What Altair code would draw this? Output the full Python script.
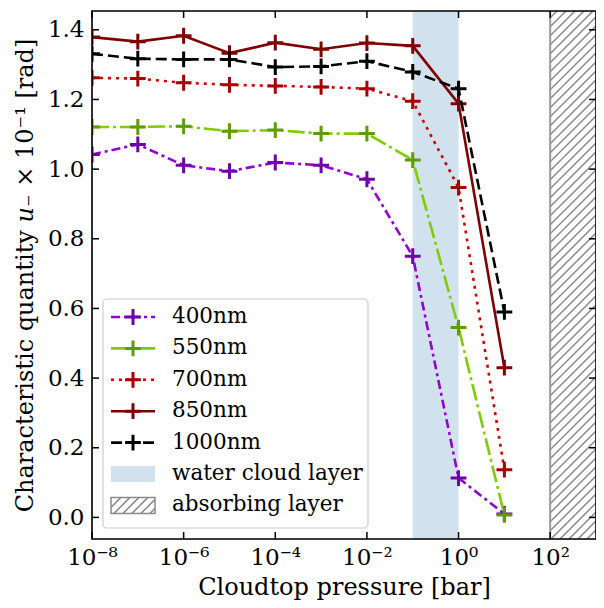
import altair as alt
import numpy as np
import pandas as pd

# ---------------- data ----------------
pressures = [1e-8, 1e-7, 1e-6, 1e-5, 1e-4, 1e-3, 1e-2, 1e-1, 1.0, 10.0]
u400 = [1.042, 1.071, 1.011, 0.994, 1.019, 1.011, 0.971, 0.750, 0.113, 0.010]
u550 = [1.121, 1.121, 1.123, 1.109, 1.112, 1.102, 1.102, 1.026, 0.545, 0.007]
u700 = [1.262, 1.260, 1.248, 1.242, 1.239, 1.236, 1.231, 1.195, 0.947, 0.137]
u850 = [1.379, 1.366, 1.383, 1.333, 1.363, 1.344, 1.362, 1.354, 1.188, 0.430]
u1000 = [1.331, 1.317, 1.315, 1.315, 1.293, 1.295, 1.310, 1.279, 1.231, 0.590]

labels = ["400nm", "550nm", "700nm", "850nm", "1000nm"]
values = [u400, u550, u700, u850, u1000]
line_colors = ["#9400d3", "#7fcc00", "#d40000", "#800000", "#000000"]
marker_colors = ["#7000a8", "#5e9c00", "#a80000", "#800000", "#000000"]
dashes = [[9, 4, 3, 4], [17, 4, 3, 4], [3, 5], [], [11, 5]]

water_cloud = [0.1, 1.0]
absorbing = [100.0, 1000.0]

x_ticks = [1e-8, 1e-6, 1e-4, 1e-2, 1.0, 1e2]
x_tick_labels = ["10⁻⁸", "10⁻⁶", "10⁻⁴", "10⁻²", "10⁰", "10²"]
y_ticks = [0.0, 0.2, 0.4, 0.6, 0.8, 1.0, 1.2, 1.4]

x_domain = [1e-8, 1e3]
y_domain = [-0.062, 1.454]

# ---------------- layout ----------------
W, H = 504, 528
FONT = "DejaVu Serif"
FS_LAB = 23
FS_TIT = 24
TICK = 7

xs = alt.Scale(type="log", domain=x_domain, nice=False)
ys = alt.Scale(domain=y_domain, nice=False, zero=False)

label_expr = " : ".join(
    f"abs(datum.value - {v}) < {v * 0.01} ? '{t}'" for v, t in zip(x_ticks, x_tick_labels)
) + " : ''"

x_axis = alt.Axis(values=x_ticks, labelExpr=label_expr, ticks=False, domain=False,
                  grid=False, labelFont=FONT, labelFontSize=FS_LAB, labelPadding=7,
                  labelFlush=False, labelOverlap=False, labelBound=False,
                  title="Cloudtop pressure [bar]", titleFont=FONT, titleFontSize=FS_TIT,
                  titleFontWeight="normal", titlePadding=6, labelColor="black",
                  titleColor="black")
y_axis = alt.Axis(values=y_ticks, format=".1f", ticks=False, domain=False, grid=False,
                  labelFont=FONT, labelFontSize=FS_LAB, labelPadding=8,
                  labelFlush=False, labelOverlap=False,
                  title="Characteristic quantity 𝑢₋ × 10⁻¹ [rad]", titleFont=FONT,
                  titleFontSize=FS_TIT, titleFontWeight="normal", titlePadding=10,
                  labelColor="black", titleColor="black")

layers = []

# water cloud span
wc = pd.DataFrame({"x0": [water_cloud[0]], "x1": [water_cloud[1]]})
layers.append(alt.Chart(wc).mark_rect(color="#d1e2ee").encode(
    x=alt.X("x0:Q", scale=xs, axis=x_axis), x2="x1:Q"))

# absorbing layer: hatch lines (decoration)
px_per_y = H / (y_domain[1] - y_domain[0])
region_px = W * np.log10(absorbing[1] / absorbing[0]) / np.log10(x_domain[1] / x_domain[0])
dy = region_px / px_per_y
step = 9.0 / px_per_y
y0s = np.arange(y_domain[0] - dy, y_domain[1] + step, step)
hatch = pd.DataFrame({"xa": absorbing[0], "xb": absorbing[1], "ya": y0s, "yb": y0s + dy})
layers.append(alt.Chart(hatch).mark_rule(color="#8a8a8a", strokeWidth=1.5, clip=True).encode(
    x=alt.X("xa:Q", scale=xs), x2="xb:Q",
    y=alt.Y("ya:Q", scale=ys, axis=y_axis), y2="yb:Q"))
ab = pd.DataFrame({"x0": [absorbing[0]]})
layers.append(alt.Chart(ab).mark_rule(color="#999999", strokeWidth=2).encode(
    x=alt.X("x0:Q", scale=xs)))

# series
plus_path = "M-1,0H1M0,-1V1"
for lab, vals, lc, mc, d in zip(labels, values, line_colors, marker_colors, dashes):
    df = pd.DataFrame({"p": pressures, "u": vals})
    kw = dict(color=lc, strokeWidth=2.6, clip=True)
    if d:
        kw["strokeDash"] = d
    layers.append(alt.Chart(df).mark_line(**kw).encode(
        x=alt.X("p:Q", scale=xs), y=alt.Y("u:Q", scale=ys)))
    layers.append(alt.Chart(df).mark_point(shape=plus_path, filled=False, stroke=mc,
                                           strokeWidth=3, size=250, opacity=1,
                                           clip=True).encode(
        x=alt.X("p:Q", scale=xs), y=alt.Y("u:Q", scale=ys)))

# inward ticks on all four sides
xt = pd.DataFrame({"t": x_ticks})
yt = pd.DataFrame({"t": y_ticks})
tick_style = dict(color="black", strokeWidth=1.5)
layers.append(alt.Chart(xt).mark_rule(**tick_style).encode(
    x=alt.X("t:Q", scale=xs), y=alt.value(H), y2=alt.value(H - TICK)))
layers.append(alt.Chart(xt).mark_rule(**tick_style).encode(
    x=alt.X("t:Q", scale=xs), y=alt.value(0), y2=alt.value(TICK)))
layers.append(alt.Chart(yt).mark_rule(**tick_style).encode(
    y=alt.Y("t:Q", scale=ys), x=alt.value(0), x2=alt.value(TICK)))
layers.append(alt.Chart(yt).mark_rule(**tick_style).encode(
    y=alt.Y("t:Q", scale=ys), x=alt.value(W), x2=alt.value(W - TICK)))

# frame
one = pd.DataFrame({"a": [0]})
layers.append(alt.Chart(one).mark_rect(fill=None, stroke="black", strokeWidth=1.6).encode(
    x=alt.value(0), x2=alt.value(W), y=alt.value(0), y2=alt.value(H)))

# legend (manual)
LX0, LY0, LX1, LY1 = 11, 288, 276, 517
row0, rstep = 306, 31.4
sx0, sx1, sxc, tx = 19, 63, 41, 80
layers.append(alt.Chart(one).mark_rect(fill="white", fillOpacity=0.85, stroke="#cccccc",
                                        strokeWidth=1.2, cornerRadius=4).encode(
    x=alt.value(LX0), x2=alt.value(LX1), y=alt.value(LY0), y2=alt.value(LY1)))
all_labels = labels + ["water cloud layer", "absorbing layer"]
for i, lab in enumerate(all_labels):
    yc = row0 + i * rstep
    if i < len(labels):
        kw = dict(color=line_colors[i], strokeWidth=2.6)
        if dashes[i]:
            kw["strokeDash"] = dashes[i]
        layers.append(alt.Chart(one).mark_rule(**kw).encode(
            x=alt.value(sx0), x2=alt.value(sx1), y=alt.value(yc)))
        layers.append(alt.Chart(one).mark_point(shape=plus_path, filled=False,
                                                stroke=marker_colors[i], strokeWidth=3,
                                                size=250, opacity=1).encode(
            x=alt.value(sxc), y=alt.value(yc)))
    elif lab == "water cloud layer":
        layers.append(alt.Chart(one).mark_rect(fill="#d1e2ee").encode(
            x=alt.value(sx0), x2=alt.value(sx1), y=alt.value(yc - 8), y2=alt.value(yc + 8)))
    else:
        for k in range(6):
            xa = sx0 - 6 + k * 9
            layers.append(alt.Chart(one).mark_rule(color="#8a8a8a", strokeWidth=1.5).encode(
                x=alt.value(max(xa, sx0)), x2=alt.value(min(xa + 16, sx1)),
                y=alt.value(yc + 8 - (max(xa, sx0) - xa)),
                y2=alt.value(yc - 8 + (xa + 16 - min(xa + 16, sx1)))))
        layers.append(alt.Chart(one).mark_rect(fill=None, stroke="#8a8a8a", strokeWidth=1.5).encode(
            x=alt.value(sx0), x2=alt.value(sx1), y=alt.value(yc - 8), y2=alt.value(yc + 8)))
    layers.append(alt.Chart(pd.DataFrame({"label": [lab]})).mark_text(
        align="left", baseline="middle", font=FONT, fontSize=21.5, color="black").encode(
        x=alt.value(tx), y=alt.value(yc), text="label:N"))

chart = alt.layer(*layers).properties(
    width=W, height=H,
    autosize=alt.AutoSizeParams(type="none"),
    padding={"left": 84, "top": 3, "right": 0, "bottom": 61},
).configure_view(stroke=None).configure(background="white")

chart.save("out.html", embed_options={"renderer": "svg", "actions": False})
